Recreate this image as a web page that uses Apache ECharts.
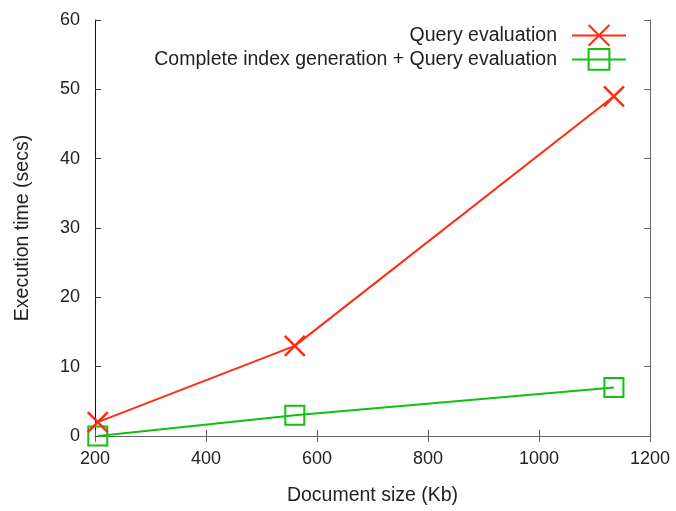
<!DOCTYPE html>
<html>
<head>
<meta charset="utf-8">
<script src="https://cdn.jsdelivr.net/npm/echarts@6/dist/echarts.min.js"></script>
<style>
  html, body { margin: 0; padding: 0; background: #fff; }
  #chart { width: 676px; height: 511px; }
</style>
</head>
<body>
<div id="chart"></div>
<script>
const docSizes = [205, 560, 1135];
const queryEvaluation = [2, 13, 49];
const completeIndexQuery = [0, 3, 7];
const seriesNames = ['Query evaluation', 'Complete index generation + Query evaluation'];
const xTicks = [200, 400, 600, 800, 1000, 1200];
const yTicks = [0, 10, 20, 30, 40, 50, 60];

const FONT = 'Liberation Sans, Arial, sans-serif';
const RED = '#ff2a0f';
const GREEN = '#12c012';
const X_PATH = 'path://M0,0L20,20M20,0L0,20';
const SQ_PATH = 'path://M0,0L20,0L20,20L0,20Z';
const TEXT_SIZE = 19.5;

const chart = echarts.init(document.getElementById('chart'), null, { renderer: 'canvas' });

const tickLabel = { color: '#222', fontFamily: FONT, fontSize: 18, formatter: v => String(v) };

function legendFor(name, top) {
  return {
    data: [name], right: 49, top: top, align: 'right', padding: 0,
    itemWidth: 54, itemHeight: 26,
    textStyle: { color: '#222', fontFamily: FONT, fontSize: TEXT_SIZE, padding: [0, 10, 0, 0] }
  };
}

chart.setOption({
  animation: false,
  backgroundColor: '#fff',
  grid: { left: 95, right: 26, top: 20, bottom: 72, containLabel: false },
  legend: [legendFor(seriesNames[0], 24), legendFor(seriesNames[1], 48)],
  xAxis: [
    {
      type: 'value', min: xTicks[0], max: xTicks[xTicks.length - 1], interval: 200,
      name: 'Document size (Kb)', nameLocation: 'middle', nameGap: 50,
      nameTextStyle: { color: '#222', fontFamily: FONT, fontSize: TEXT_SIZE },
      axisLine: { show: true, lineStyle: { color: '#555', width: 1 } },
      axisTick: { show: true, inside: true, length: 6, lineStyle: { color: '#555' } },
      axisLabel: Object.assign({ margin: 14 }, tickLabel),
      splitLine: { show: false }
    },
    {
      type: 'value', position: 'top', min: xTicks[0], max: xTicks[xTicks.length - 1], interval: 200,
      axisLine: { show: true, lineStyle: { color: '#666', width: 1 } },
      axisTick: { show: true, inside: true, length: 6, lineStyle: { color: '#666' } },
      axisLabel: { show: false }, splitLine: { show: false }
    }
  ],
  yAxis: [
    {
      type: 'value', min: yTicks[0], max: yTicks[yTicks.length - 1], interval: 10,
      name: 'Execution time (secs)', nameLocation: 'middle', nameGap: 62, nameRotate: 90,
      nameTextStyle: { color: '#222', fontFamily: FONT, fontSize: TEXT_SIZE },
      axisLine: { show: true, lineStyle: { color: '#111', width: 1 } },
      axisTick: { show: true, inside: true, length: 6, lineStyle: { color: '#333' } },
      axisLabel: Object.assign({ margin: 15 }, tickLabel),
      splitLine: { show: false }
    },
    {
      type: 'value', position: 'right', min: yTicks[0], max: yTicks[yTicks.length - 1], interval: 10,
      axisLine: { show: true, lineStyle: { color: '#666', width: 1 } },
      axisTick: { show: true, inside: true, length: 6, lineStyle: { color: '#666' } },
      axisLabel: { show: false }, splitLine: { show: false }
    }
  ],
  series: [
    {
      name: seriesNames[0], type: 'line',
      data: docSizes.map((x, i) => [x, queryEvaluation[i]]),
      symbol: X_PATH, symbolSize: 20, showAllSymbol: true,
      lineStyle: { color: RED, width: 2 },
      itemStyle: { color: RED, borderColor: RED, borderWidth: 2.5 },
      z: 3
    },
    {
      name: seriesNames[1], type: 'line',
      data: docSizes.map((x, i) => [x, completeIndexQuery[i]]),
      symbol: SQ_PATH, symbolSize: 19, showAllSymbol: true,
      lineStyle: { color: GREEN, width: 2 },
      itemStyle: { color: 'rgba(0,0,0,0)', borderColor: GREEN, borderWidth: 2 },
      z: 2
    }
  ]
});
</script>
</body>
</html>
